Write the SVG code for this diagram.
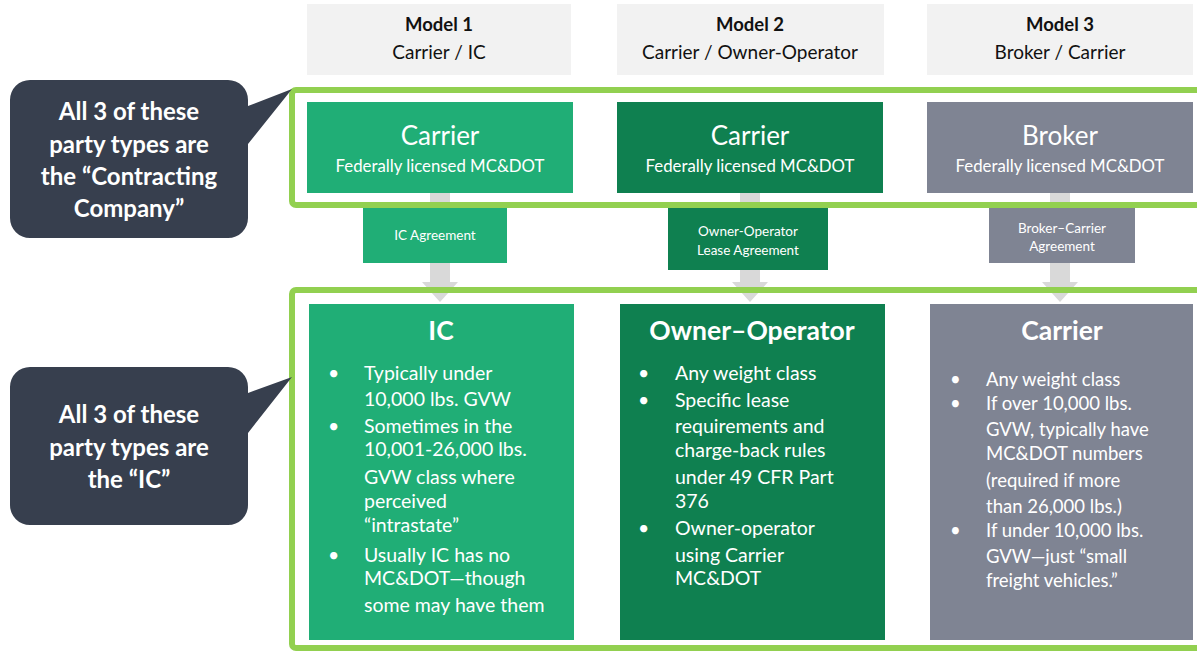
<svg xmlns="http://www.w3.org/2000/svg" width="1197" height="652" viewBox="0 0 1197 652">
<style>
text{font-family:Lato,"Open Sans","Liberation Sans",sans-serif}
.hdr{fill:#F2F2F2}
.hb{font-size:18.5px;font-weight:bold;fill:#111;text-anchor:middle}
.hn{font-size:19px;fill:#111;text-anchor:middle}
.t1{font-size:26px;fill:#fff;text-anchor:middle}
.t2{font-size:16.8px;fill:#fff;text-anchor:middle}
.ag{font-size:13.5px;fill:#fff;text-anchor:middle}
.bt{font-size:26.5px;font-weight:bold;fill:#fff;text-anchor:middle}
.bl{font-size:19.5px;fill:#fff}
.co{font-size:24px;font-weight:bold;fill:#fff;text-anchor:middle}
.g1{fill:#20AE76}.g2{fill:#0F8050}.g3{fill:#7F8493}
.frame{fill:none;stroke:#92D050;stroke-width:6}
.arr{fill:#D9D9D9}
.call{fill:#373F4E}
</style>
<rect width="1197" height="652" fill="#fff"/>
<g id="connectors">
<path class="arr" d="M430 193H450V282H458L440 302L422 282H430Z"/>
<path class="arr" d="M740 193H760V282H768L750 302L732 282H740Z"/>
<path class="arr" d="M1050 193H1070V282H1078L1060 302L1042 282H1050Z"/>
</g>
<g id="header1"><rect class="hdr" x="307" y="4" width="264" height="71"/><text class="hb" x="439" y="31">Model 1</text><text class="hn" x="439" y="59">Carrier / IC</text></g>
<g id="header2"><rect class="hdr" x="617" y="4" width="267" height="71"/><text class="hb" x="750" y="31">Model 2</text><text class="hn" x="750" y="59">Carrier / Owner-Operator</text></g>
<g id="header3"><rect class="hdr" x="927" y="4" width="266" height="71"/><text class="hb" x="1060" y="31">Model 3</text><text class="hn" x="1060" y="59">Broker / Carrier</text></g>
<g id="contracting-frame"><rect class="frame" x="292" y="90" width="920" height="115" rx="4"/></g>
<g id="carrier1"><rect class="g1" x="307" y="102" width="266" height="91"/><text class="t1" x="440" y="145">Carrier</text><text class="t2" x="440" y="172">Federally licensed MC&amp;DOT</text></g>
<g id="carrier2"><rect class="g2" x="617" y="102" width="266" height="91"/><text class="t1" x="750" y="145">Carrier</text><text class="t2" x="750" y="172">Federally licensed MC&amp;DOT</text></g>
<g id="broker"><rect class="g3" x="927" y="102" width="266" height="91"/><text class="t1" x="1060" y="145">Broker</text><text class="t2" x="1060" y="172">Federally licensed MC&amp;DOT</text></g>
<g id="ic-agreement"><rect class="g1" x="363" y="208" width="144" height="55"/><text class="ag" x="435" y="240">IC Agreement</text></g>
<g id="oo-agreement"><rect class="g2" x="668" y="208" width="160" height="62"/><text class="ag" x="748" y="236">Owner-Operator</text><text class="ag" x="748" y="255">Lease Agreement</text></g>
<g id="bc-agreement"><rect class="g3" x="989" y="208" width="146" height="55"/><text class="ag" x="1062" y="233">Broker–Carrier</text><text class="ag" x="1062" y="251">Agreement</text></g>
<g id="ic-frame"><rect class="frame" x="292" y="290" width="920" height="358" rx="4"/></g>
<g id="ic"><rect class="g1" x="309" y="304" width="265" height="336"/><text class="bt" x="441" y="340">IC</text>
<text class="bl"><tspan x="328" y="380">•</tspan><tspan x="364" y="380">Typically under</tspan><tspan x="364" y="406">10,000 lbs. GVW</tspan><tspan x="328" y="433">•</tspan><tspan x="364" y="433">Sometimes in the</tspan><tspan x="364" y="456">10,001-26,000 lbs.</tspan><tspan x="364" y="484">GVW class where</tspan><tspan x="364" y="508">perceived</tspan><tspan x="364" y="532">“intrastate”</tspan><tspan x="328" y="562">•</tspan><tspan x="364" y="562">Usually IC has no</tspan><tspan x="364" y="585">MC&amp;DOT—though</tspan><tspan x="364" y="612">some may have them</tspan></text></g>
<g id="owner-operator"><rect class="g2" x="620" y="304" width="265" height="336"/><text class="bt" x="752" y="340">Owner–Operator</text>
<text class="bl"><tspan x="638" y="380">•</tspan><tspan x="675" y="380">Any weight class</tspan><tspan x="638" y="407">•</tspan><tspan x="675" y="407">Specific lease</tspan><tspan x="675" y="433">requirements and</tspan><tspan x="675" y="457">charge-back rules</tspan><tspan x="675" y="484">under 49 CFR Part</tspan><tspan x="675" y="508">376</tspan><tspan x="638" y="535">•</tspan><tspan x="675" y="535">Owner-operator</tspan><tspan x="675" y="562">using Carrier</tspan><tspan x="675" y="585">MC&amp;DOT</tspan></text></g>
<g id="carrier-ic"><rect class="g3" x="930" y="304" width="263" height="336"/><text class="bt" x="1062" y="340">Carrier</text>
<text class="bl" style="font-size:18.5px"><tspan x="950" y="386">•</tspan><tspan x="986" y="386">Any weight class</tspan><tspan x="950" y="410">•</tspan><tspan x="986" y="410">If over 10,000 lbs.</tspan><tspan x="986" y="436">GVW, typically have</tspan><tspan x="986" y="460">MC&amp;DOT numbers</tspan><tspan x="986" y="487">(required if more</tspan><tspan x="986" y="513">than 26,000 lbs.)</tspan><tspan x="950" y="537">•</tspan><tspan x="986" y="537">If under 10,000 lbs.</tspan><tspan x="986" y="563">GVW—just “small</tspan><tspan x="986" y="587">freight vehicles.”</tspan></text></g>
<g id="callout-contracting"><path class="call" d="M30 80H228A20 20 0 0 1 248 100V106L292 89L248 144V218A20 20 0 0 1 228 238H30A20 20 0 0 1 10 218V100A20 20 0 0 1 30 80Z"/>
<text class="co" x="129" y="120">All 3 of these</text><text class="co" x="129" y="153">party types are</text><text class="co" x="129" y="185">the “Contracting</text><text class="co" x="129" y="217">Company”</text></g>
<g id="callout-ic"><path class="call" d="M30 367H228A20 20 0 0 1 248 387V393L292 377L248 433V505A20 20 0 0 1 228 525H30A20 20 0 0 1 10 505V387A20 20 0 0 1 30 367Z"/>
<text class="co" x="129" y="423">All 3 of these</text><text class="co" x="129" y="456">party types are</text><text class="co" x="129" y="488">the “IC”</text></g>
</svg>
